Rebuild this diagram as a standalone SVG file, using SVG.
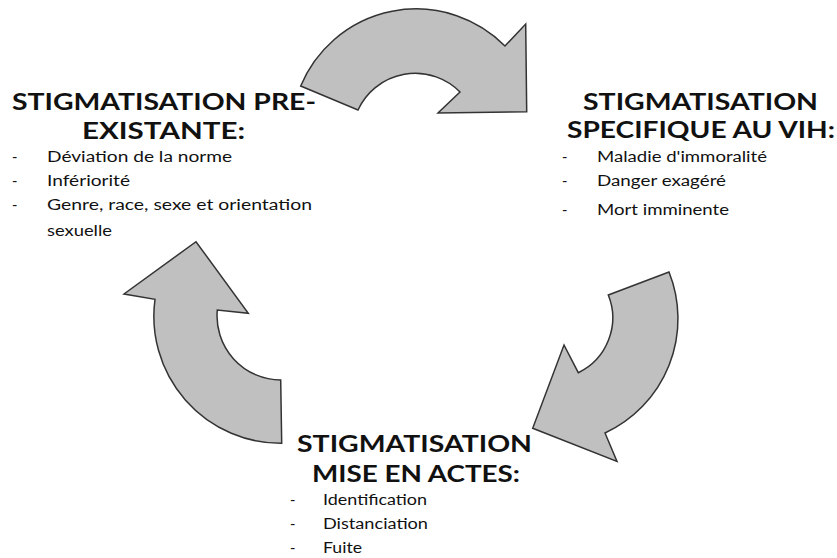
<svg xmlns="http://www.w3.org/2000/svg" width="837" height="558" viewBox="0 0 837 558">
<style>
.arrow{fill:#c0c0c0;stroke:#333;stroke-width:1.5;stroke-linejoin:miter}
.h{font-family:Lato,"Open Sans","Liberation Sans",sans-serif;font-weight:bold;font-size:23px;fill:#111}
.t{font-family:Lato,"Open Sans","Liberation Sans",sans-serif;font-size:14.5px;fill:#111}
</style>
<rect width="837" height="558" fill="#fff"/>
<g id="connectors">
<path class="arrow" d="M300.7 86 A125 125 0 0 1 505 46 L525.7 24 L526.7 111.7 L438 113 L460 92 A63 63 0 0 0 358 110 Z"/>
<path class="arrow" d="M669 272 A126 126 0 0 1 605 433 L617 461.5 L532.7 428.3 L564 345 L578.3 372.7 A61 61 0 0 0 608.3 295 Z"/>
<path class="arrow" d="M281.7 443.3 A127 127 0 0 1 155 299.3 L124 294 L196 241.7 L248.3 313.3 L217.3 310 A64 64 0 0 0 280.7 380 Z"/>
</g>
<g id="node-preexistante">
<text class="h" x="12" y="110" textLength="304" lengthAdjust="spacingAndGlyphs">STIGMATISATION PRE-</text>
<text class="h" x="82" y="139" textLength="163" lengthAdjust="spacingAndGlyphs">EXISTANTE:</text>
<text class="t" x="12" y="162">-</text>
<text class="t" x="47" y="162" textLength="185" lengthAdjust="spacingAndGlyphs">Déviation de la norme</text>
<text class="t" x="12" y="186">-</text>
<text class="t" x="47" y="186" textLength="83" lengthAdjust="spacingAndGlyphs">Infériorité</text>
<text class="t" x="12" y="210">-</text>
<text class="t" x="47" y="210" textLength="265" lengthAdjust="spacingAndGlyphs">Genre, race, sexe et orientation</text>
<text class="t" x="47" y="236" textLength="65" lengthAdjust="spacingAndGlyphs">sexuelle</text>
</g>
<g id="node-vih">
<text class="h" x="583" y="110" textLength="235" lengthAdjust="spacingAndGlyphs">STIGMATISATION</text>
<text class="h" x="567" y="138" textLength="268" lengthAdjust="spacingAndGlyphs">SPECIFIQUE AU VIH:</text>
<text class="t" x="562" y="162">-</text>
<text class="t" x="597" y="162" textLength="170" lengthAdjust="spacingAndGlyphs">Maladie d'immoralité</text>
<text class="t" x="562" y="186">-</text>
<text class="t" x="597" y="186" textLength="129" lengthAdjust="spacingAndGlyphs">Danger exagéré</text>
<text class="t" x="562" y="215">-</text>
<text class="t" x="597" y="215" textLength="132" lengthAdjust="spacingAndGlyphs">Mort imminente</text>
</g>
<g id="node-actes">
<text class="h" x="297" y="452" textLength="235" lengthAdjust="spacingAndGlyphs">STIGMATISATION</text>
<text class="h" x="312" y="482" textLength="208" lengthAdjust="spacingAndGlyphs">MISE EN ACTES:</text>
<text class="t" x="290" y="505">-</text>
<text class="t" x="323" y="505" textLength="104" lengthAdjust="spacingAndGlyphs">Identification</text>
<text class="t" x="290" y="529">-</text>
<text class="t" x="323" y="529" textLength="105" lengthAdjust="spacingAndGlyphs">Distanciation</text>
<text class="t" x="290" y="553">-</text>
<text class="t" x="323" y="553" textLength="39" lengthAdjust="spacingAndGlyphs">Fuite</text>
</g>
</svg>
